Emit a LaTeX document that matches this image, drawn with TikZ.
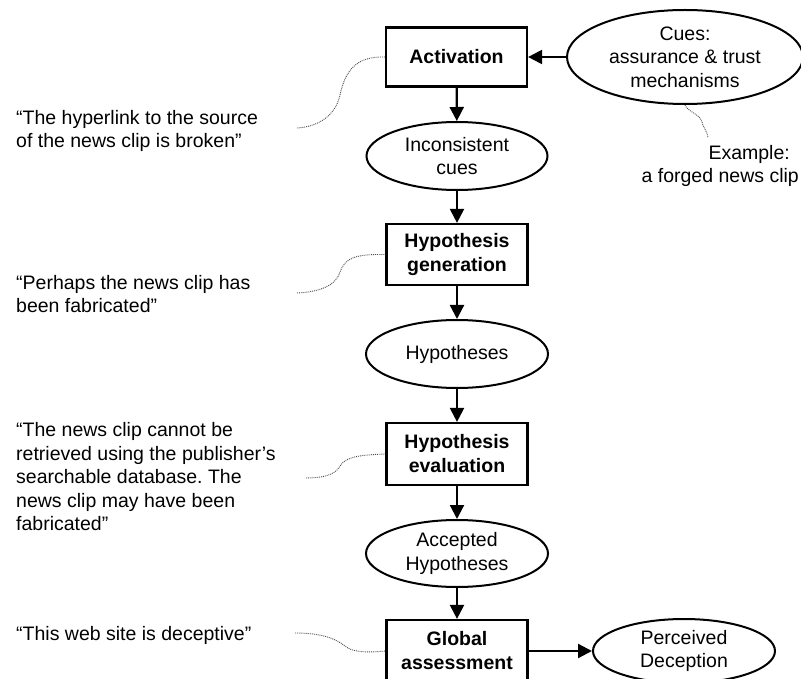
\documentclass[tikz,border=0pt]{standalone}
\usepackage{fontspec}
\setmainfont{Liberation Sans}
\usetikzlibrary{shapes.geometric,arrows.meta}
\begin{document}
\frenchspacing
\begin{tikzpicture}[x=1pt,y=-1pt,
  every node/.style={font=\fontsize{19.5}{23.5}\selectfont},
  stagebox/.style={draw, line width=2.2pt, minimum width=141pt, inner sep=0pt, align=center, font=\fontsize{19.5}{24}\selectfont\bfseries},
  oval/.style={draw, ellipse, line width=2pt, inner sep=0pt, align=center},
  flow/.style={line width=2.2pt, -{Triangle[length=14pt,width=14pt]}},
  squig/.style={densely dotted, line width=0.9pt, black!70},
  quote/.style={align=left, anchor=west, inner sep=0pt}]
\useasboundingbox (0,0) rectangle (801,679);
\fill[white] (0,0) rectangle (801,679);
% central column
\node[stagebox, minimum height=59pt] (act) at (456.5,57) {Activation};
\node[oval, minimum width=181pt, minimum height=68pt] (inc) at (457,156) {Inconsistent\\cues};
\node[stagebox, minimum height=61pt] (gen) at (457,254.5) {Hypothesis\\generation};
\node[oval, minimum width=182pt, minimum height=68pt] (hyp) at (457,354) {Hypotheses};
\node[stagebox, minimum height=62pt] (eval) at (457,454) {Hypothesis\\evaluation};
\node[oval, minimum width=182pt, minimum height=67pt] (acc) at (457,553.5) {Accepted\\Hypotheses};
\node[stagebox, minimum height=62pt] (glob) at (457,651) {Global\\assessment};
% right side
\node[oval, minimum width=236pt, minimum height=94pt] (cues) at (685,57) {Cues:\\assurance \& trust\\mechanisms};
\node[oval, minimum width=182pt, minimum height=64pt] (perc) at (684,651) {Perceived\\Deception};
\node[align=right, anchor=east, inner sep=0pt] (ex) at (799,166) {Example:\hspace*{9pt}\\a forged news clip};
% left quotes
\node[quote] (q1) at (16,131) {“The hyperlink to the source\\of the news clip is broken”};
\node[quote] (q2) at (16,294) {“Perhaps the news clip has\\been fabricated”};
\node[quote] (q3) at (16,477) {“The news clip cannot be\\retrieved using the publisher’s\\searchable database. The\\news clip may have been\\fabricated”};
\node[quote] (q4) at (16,635) {“This web site is deceptive”};
% flow arrows
\draw[flow] (act) -- (inc);
\draw[flow] (inc) -- (gen);
\draw[flow] (gen) -- (hyp);
\draw[flow] (hyp) -- (eval);
\draw[flow] (eval) -- (acc);
\draw[flow] (acc) -- (glob);
\draw[flow] (cues.west) -- (act.east);
\draw[flow] (glob.east) -- (perc.west);
% squiggles
\coordinate (e1) at (297,128);
\coordinate (e2) at (297,293);
\coordinate (e3) at (305,478);
\coordinate (e4) at (295,633);
\coordinate (e5) at (708,138);
\draw[squig] (act.west) .. controls (355,56) and (345,72) .. (340,95) .. controls (335,118) and (315,127) .. (e1);
\draw[squig] (gen.west) .. controls (355,254) and (345,258) .. (340,272) .. controls (335,288) and (315,292) .. (e2);
\draw[squig] (eval.west) .. controls (355,455) and (345,458) .. (340,466) .. controls (335,476) and (320,478) .. (e3);
\draw[squig] (e4) .. controls (320,633) and (335,638) .. (345,646) .. controls (352,652) and (365,653) .. (glob.west);
\draw[squig] (cues.south) .. controls (688,112) and (700,114) .. (702,122) .. controls (704,130) and (708,132) .. (e5);
\end{tikzpicture}
\end{document}
